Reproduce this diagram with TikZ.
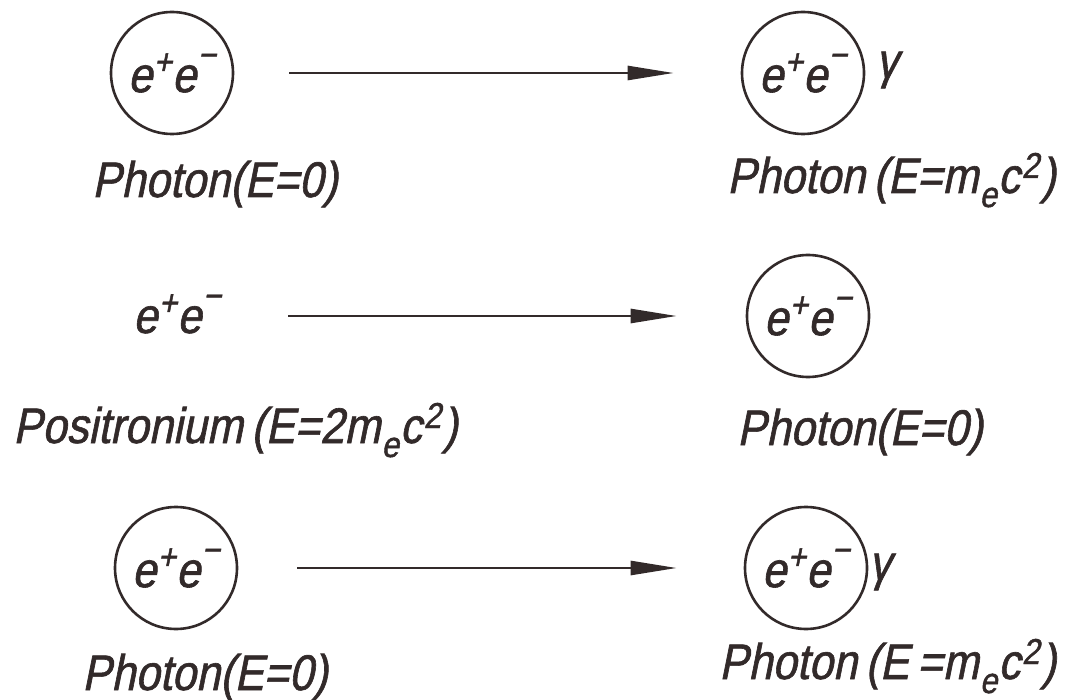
\documentclass[tikz,border=0pt]{standalone}
\usepackage{fontspec}
\setmainfont{Liberation Sans}[FakeSlant=0.2,FakeStretch=0.87,FakeBold=1.2]
\usetikzlibrary{arrows.meta}
\definecolor{inkc}{RGB}{50,42,42}
\newcommand{\supp}[2][0.36em]{\raisebox{#1}{\fontsize{36}{36}\selectfont #2}}
\newcommand{\subb}[1]{\raisebox{-0.28em}{\fontsize{36}{36}\selectfont #1}}
\newcommand{\epem}{e\kern1.5pt\supp{+}e\kern1.5pt\supp[0.5em]{−}}
\newcommand{\mec}{m\kern1pt\subb{e}\kern1pt c\kern2pt\supp[0.3em]{2}\kern2pt}
\begin{document}
\begin{tikzpicture}[x=1pt,y=-1pt,
  particle/.style={circle, draw=inkc, line width=2.6pt, minimum size=122pt, inner sep=0pt, text=inkc, font=\fontsize{50}{60}\selectfont},
  lbl/.style={text=inkc, font=\fontsize{50}{60}\selectfont, inner sep=0pt},
  arr/.style={draw=inkc, line width=2.6pt, -{Triangle[length=46pt,width=14pt]}}]
\useasboundingbox (0,0) rectangle (1070,700);
% row 1
\node[particle] (l1) at (172,73) {\epem};
\node[particle] (r1) at (803,73) {\epem};
\node[lbl] (g1) at (887,70) {γ};
\node[lbl, anchor=base west] (t1l) at (92,197) {Photon(E=0)};
\node[lbl, anchor=base west] (t1r) at (727,193) {Photon\,(E=\mec)};
\draw[arr, shorten <=55pt, shorten >=67pt] (l1) -- (r1);
% row 2
\node[lbl, anchor=base west] (l2) at (133,333) {\epem};
\node[particle] (r2) at (808,316) {\epem};
\node[lbl, anchor=base west] (t2l) at (13,443) {Positronium\,(E=2\mec)};
\node[lbl, anchor=base west] (t2r) at (737,445) {Photon(E=0)};
\draw[arr, shorten <=67pt, shorten >=69pt] (l2.east |- r2) -- (r2);
% row 3
\node[particle] (l3) at (176,568) {\epem};
\node[particle] (r3) at (806,568) {\epem};
\node[lbl] (g3) at (880,572) {γ};
\node[lbl, anchor=base west] (t3r) at (719,679) {Photon\,(E\,=\mec)};
\node[lbl, anchor=base west] (t3l) at (82,690) {Photon(E=0)};
\draw[arr, shorten <=59pt, shorten >=67pt] (l3) -- (r3);
\end{tikzpicture}
\end{document}
